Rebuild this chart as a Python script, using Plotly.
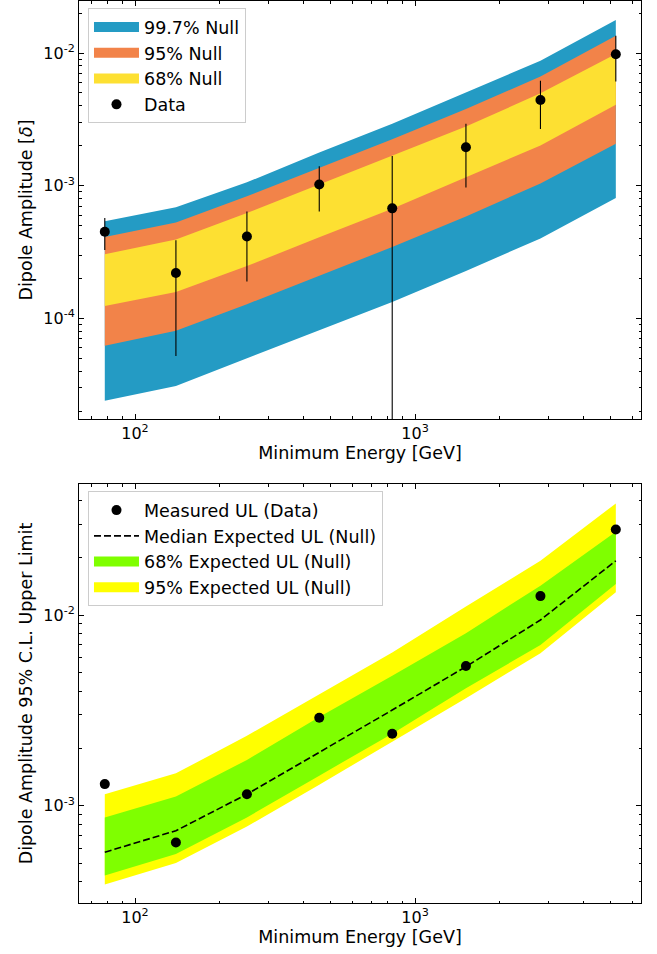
import plotly.graph_objects as go

# ---------------- data ----------------
energy = [78, 140, 251, 455, 829, 1520, 2805, 5213]

# top panel: measured dipole amplitude and null bands
data_amp = [4.5e-4, 2.2e-4, 4.14e-4, 1.02e-3, 6.75e-4, 1.95e-3, 4.43e-3, 9.8e-3]
data_err = [1.22e-4, 1.68e-4, 2.24e-4, 3.8e-4, 1.0e-3, 9.8e-4, 1.75e-3, 3.7e-3]

n997_hi = [5.40e-4, 6.87e-4, 1.06e-3, 1.78e-3, 2.93e-3, 5.06e-3, 8.75e-3, 1.77e-2]
n95_hi = [4.11e-4, 5.27e-4, 8.32e-4, 1.36e-3, 2.24e-3, 3.79e-3, 6.64e-3, 1.35e-2]
n68_hi = [3.04e-4, 3.93e-4, 6.22e-4, 1.02e-3, 1.68e-3, 2.79e-3, 4.97e-3, 9.82e-3]
n68_lo = [1.24e-4, 1.58e-4, 2.48e-4, 4.08e-4, 6.71e-4, 1.16e-3, 2.01e-3, 4.08e-3]
n95_lo = [6.22e-5, 8.07e-5, 1.28e-4, 2.10e-4, 3.45e-4, 5.87e-4, 1.04e-3, 2.07e-3]
n997_lo = [2.40e-5, 3.10e-5, 4.94e-5, 8.13e-5, 1.33e-4, 2.28e-4, 4.00e-4, 8.07e-4]

# bottom panel: upper limits
ul_data = [1.30e-3, 6.42e-4, 1.15e-3, 2.90e-3, 2.39e-3, 5.42e-3, 1.26e-2, 2.82e-2]
ul_median = [5.71e-4, 7.40e-4, 1.15e-3, 1.90e-3, 3.18e-3, 5.37e-3, 9.44e-3, 1.93e-2]
ul68_hi = [8.68e-4, 1.12e-3, 1.74e-3, 2.92e-3, 4.81e-3, 8.05e-3, 1.43e-2, 2.74e-2]
ul68_lo = [4.31e-4, 5.58e-4, 8.69e-4, 1.44e-3, 2.39e-3, 4.14e-3, 6.98e-3, 1.46e-2]
ul95_hi = [1.15e-3, 1.48e-3, 2.33e-3, 3.86e-3, 6.37e-3, 1.11e-2, 1.93e-2, 3.86e-2]
ul95_lo = [3.86e-4, 5.01e-4, 7.79e-4, 1.29e-3, 2.17e-3, 3.67e-3, 6.32e-3, 1.32e-2]

# tick labels
x_major = [100, 1000]
x_major_text = ["10<sup>2</sup>", "10<sup>3</sup>"]
y1_major = [1e-4, 1e-3, 1e-2]
y1_major_text = ["10<sup>-4</sup>", "10<sup>-3</sup>", "10<sup>-2</sup>"]
y2_major = [1e-3, 1e-2]
y2_major_text = ["10<sup>-3</sup>", "10<sup>-2</sup>"]

# ---------------- style ----------------
BLUE = "#249bc4"
ORANGE = "#f28349"
YELLOW = "#fde032"
GREEN = "#7fff00"
YEL2 = "#ffff00"
FONT = "DejaVu Sans"
FS = 17.5
TFS = 16

def minor_vals(lo_dec, hi_dec):
    vals = []
    for d in range(lo_dec, hi_dec + 1):
        for m in range(2, 10):
            vals.append(m * 10.0 ** d)
    return vals

fig = go.Figure()

def band(hi, lo, color, xa, ya):
    return go.Scatter(
        x=energy + energy[::-1], y=hi + lo[::-1], fill="toself",
        fillcolor=color, line=dict(width=0), mode="lines",
        showlegend=False, hoverinfo="skip", xaxis=xa, yaxis=ya)

def legend_patch(name, color, legend, rank, xa, ya):
    return go.Scatter(
        x=[None], y=[None], mode="lines", line=dict(color=color, width=14),
        name=name, legend=legend, legendrank=rank, xaxis=xa, yaxis=ya)

# top panel
fig.add_trace(band(n997_hi, n997_lo, BLUE, "x", "y"))
fig.add_trace(band(n95_hi, n95_lo, ORANGE, "x", "y"))
fig.add_trace(band(n68_hi, n68_lo, YELLOW, "x", "y"))
fig.add_trace(legend_patch("99.7% Null", BLUE, "legend", 1, "x", "y"))
fig.add_trace(legend_patch("95% Null", ORANGE, "legend", 2, "x", "y"))
fig.add_trace(legend_patch("68% Null", YELLOW, "legend", 3, "x", "y"))
fig.add_trace(go.Scatter(
    x=energy, y=data_amp, mode="markers", name="Data",
    marker=dict(color="black", size=10),
    error_y=dict(type="data", array=data_err, color="black", thickness=1.1, width=0),
    legend="legend", legendrank=4, xaxis="x", yaxis="y"))

# bottom panel
fig.add_trace(band(ul95_hi, ul95_lo, YEL2, "x2", "y2"))
fig.add_trace(band(ul68_hi, ul68_lo, GREEN, "x2", "y2"))
fig.add_trace(go.Scatter(
    x=energy, y=ul_median, mode="lines", name="Median Expected UL (Null)",
    line=dict(color="black", width=1.6, dash="7px,3px"),
    legend="legend2", legendrank=2, xaxis="x2", yaxis="y2"))
fig.add_trace(go.Scatter(
    x=energy, y=ul_data, mode="markers", name="Measured UL (Data)",
    marker=dict(color="black", size=10),
    legend="legend2", legendrank=1, xaxis="x2", yaxis="y2"))
fig.add_trace(legend_patch("68% Expected UL (Null)", GREEN, "legend2", 3, "x2", "y2"))
fig.add_trace(legend_patch("95% Expected UL (Null)", YEL2, "legend2", 4, "x2", "y2"))

axis_common = dict(
    type="log", showline=True, linecolor="black", linewidth=1, mirror="ticks",
    ticks="inside", ticklen=5, tickwidth=1, tickcolor="black",
    showgrid=False, zeroline=False, tickmode="array", automargin=False,
    tickfont=dict(family=FONT, size=TFS, color="black"),
)

xminor = dict(ticks="inside", ticklen=2.5, tickwidth=1, tickcolor="black",
              tickmode="array", tickvals=minor_vals(1, 3), showgrid=False)

fig.update_layout(
    width=657, height=954,
    margin=dict(l=79, r=16, t=1, b=51),
    plot_bgcolor="white", paper_bgcolor="white",
    font=dict(family=FONT, size=FS, color="black"),
    xaxis=dict(axis_common, domain=[0, 1], anchor="y", range=[1.8, 3.807],
               tickvals=x_major, ticktext=x_major_text, minor=xminor,
               title=dict(text="Minimum Energy [GeV]", standoff=2,
                          font=dict(family=FONT, size=FS))),
    yaxis=dict(axis_common, domain=[0.5366, 1], anchor="x", range=[-4.758, -1.608],
               tickvals=y1_major, ticktext=y1_major_text,
               minor=dict(xminor, tickvals=minor_vals(-5, -2)),
               title=dict(text="Dipole Amplitude [<i>δ</i>]", standoff=6,
                          font=dict(family=FONT, size=FS))),
    xaxis2=dict(axis_common, domain=[0, 1], anchor="y2", range=[1.8, 3.807],
                tickvals=x_major, ticktext=x_major_text, minor=xminor,
                title=dict(text="Minimum Energy [GeV]", standoff=2,
                           font=dict(family=FONT, size=FS))),
    yaxis2=dict(axis_common, domain=[0, 0.4645], anchor="x2", range=[-3.51, -1.3115],
                tickvals=y2_major, ticktext=y2_major_text,
                minor=dict(xminor, tickvals=minor_vals(-4, -2)),
                title=dict(text="Dipole Amplitude 95% C.L. Upper Limit", standoff=6,
                           font=dict(family=FONT, size=FS))),
    legend=dict(x=0.016, y=0.992, xanchor="left", yanchor="top",
                bgcolor="white", bordercolor="#cccccc", borderwidth=1,
                itemwidth=45,
                font=dict(family=FONT, size=FS), traceorder="normal"),
    legend2=dict(x=0.016, y=0.4565, xanchor="left", yanchor="top",
                 bgcolor="white", bordercolor="#cccccc", borderwidth=1,
                 itemwidth=45,
                 font=dict(family=FONT, size=FS), traceorder="normal"),
)

fig.write_html("out.html",
               config={"displayModeBar": False},
               post_script="document.body.style.margin='0';document.body.style.overflow='hidden';")
